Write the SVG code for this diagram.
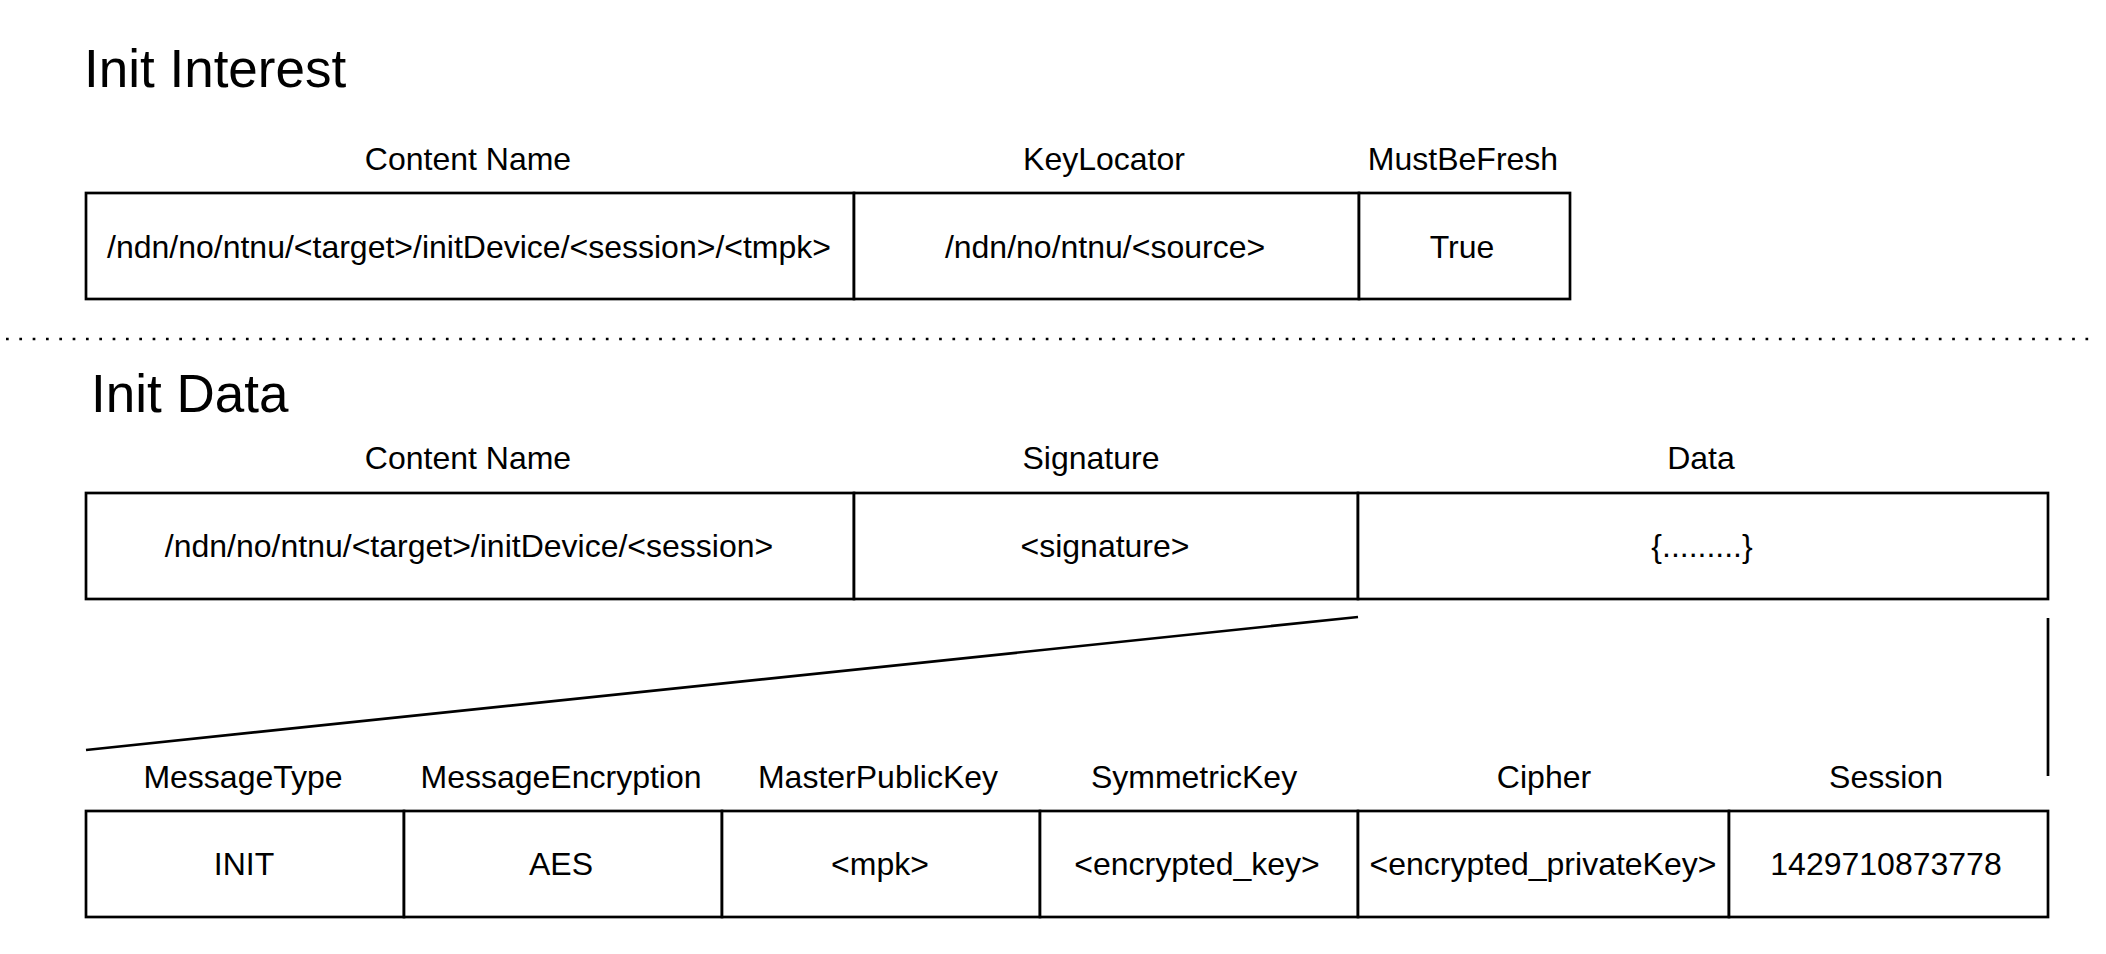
<svg xmlns="http://www.w3.org/2000/svg" width="2106" height="954" viewBox="0 0 2106 954">
<style>
  text { font-family: "Liberation Sans", Arial, sans-serif; fill: #000; }
  .title { font-size: 53px; }
  .lbl { font-size: 32px; text-anchor: middle; }
  .cell { fill: #fff; stroke: #000; stroke-width: 2.7; }
  .conn { stroke: #000; stroke-width: 2.7; fill: none; }
</style>
<rect x="0" y="0" width="2106" height="954" fill="#fff"/>

<g id="interest">
  <text class="title" x="84" y="87">Init Interest</text>
  <g id="interest-name">
    <text class="lbl" x="468" y="170">Content Name</text>
    <rect class="cell" x="86" y="193" width="768" height="106"/>
    <text class="lbl" x="469" y="258">/ndn/no/ntnu/&lt;target&gt;/initDevice/&lt;session&gt;/&lt;tmpk&gt;</text>
  </g>
  <g id="interest-keylocator">
    <text class="lbl" x="1104" y="170">KeyLocator</text>
    <rect class="cell" x="854" y="193" width="505" height="106"/>
    <text class="lbl" x="1105" y="258">/ndn/no/ntnu/&lt;source&gt;</text>
  </g>
  <g id="interest-fresh">
    <text class="lbl" x="1463" y="170">MustBeFresh</text>
    <rect class="cell" x="1359" y="193" width="211" height="106"/>
    <text class="lbl" x="1462" y="258">True</text>
  </g>
</g>

<line x1="6" y1="339" x2="2094" y2="339" stroke="#000" stroke-width="2.7" stroke-dasharray="2.7 10.63"/>

<g id="data">
  <text class="title" x="91" y="412">Init Data</text>
  <g id="data-name">
    <text class="lbl" x="468" y="469">Content Name</text>
    <rect class="cell" x="86" y="493" width="768" height="106"/>
    <text class="lbl" x="469" y="557">/ndn/no/ntnu/&lt;target&gt;/initDevice/&lt;session&gt;</text>
  </g>
  <g id="data-signature">
    <text class="lbl" x="1091" y="469">Signature</text>
    <rect class="cell" x="854" y="493" width="504" height="106"/>
    <text class="lbl" x="1105" y="557">&lt;signature&gt;</text>
  </g>
  <g id="data-data">
    <text class="lbl" x="1701" y="469">Data</text>
    <rect class="cell" x="1358" y="493" width="690" height="106"/>
    <text class="lbl" x="1702" y="557">{.........}</text>
  </g>
</g>

<g id="connectors">
  <line class="conn" x1="86" y1="750" x2="1358" y2="617"/>
  <line class="conn" x1="2048" y1="618" x2="2048" y2="776"/>
</g>

<g id="payload">
  <g id="p-type">
    <text class="lbl" x="243" y="788">MessageType</text>
    <rect class="cell" x="86" y="811" width="318" height="106"/>
    <text class="lbl" x="244" y="875">INIT</text>
  </g>
  <g id="p-enc">
    <text class="lbl" x="561" y="788">MessageEncryption</text>
    <rect class="cell" x="404" y="811" width="318" height="106"/>
    <text class="lbl" x="561" y="875">AES</text>
  </g>
  <g id="p-mpk">
    <text class="lbl" x="878" y="788">MasterPublicKey</text>
    <rect class="cell" x="722" y="811" width="318" height="106"/>
    <text class="lbl" x="880" y="875">&lt;mpk&gt;</text>
  </g>
  <g id="p-sym">
    <text class="lbl" x="1194" y="788">SymmetricKey</text>
    <rect class="cell" x="1040" y="811" width="318" height="106"/>
    <text class="lbl" x="1197" y="875">&lt;encrypted_key&gt;</text>
  </g>
  <g id="p-cipher">
    <text class="lbl" x="1544" y="788">Cipher</text>
    <rect class="cell" x="1358" y="811" width="371" height="106"/>
    <text class="lbl" x="1543" y="875">&lt;encrypted_privateKey&gt;</text>
  </g>
  <g id="p-session">
    <text class="lbl" x="1886" y="788">Session</text>
    <rect class="cell" x="1729" y="811" width="319" height="106"/>
    <text class="lbl" x="1886" y="875">1429710873778</text>
  </g>
</g>
</svg>
